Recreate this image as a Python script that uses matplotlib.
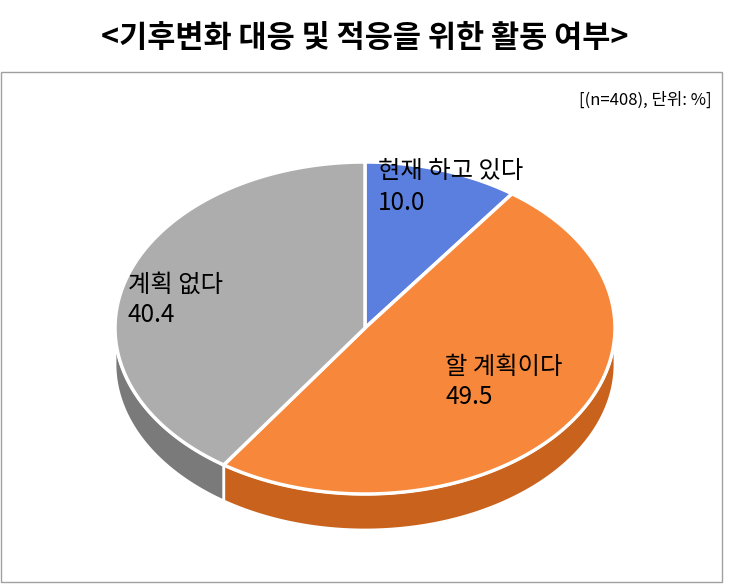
import numpy as np
import matplotlib
matplotlib.use("Agg")
import matplotlib.pyplot as plt
from matplotlib.patches import Polygon, Rectangle

plt.rcParams['font.family'] = ['Noto Sans CJK KR', 'DejaVu Sans']

labels = ["현재 하고 있다", "할 계획이다", "계획 없다"]
values = [10.0, 49.5, 40.4]
colors = ["#5B7FDF", "#F7873A", "#ADADAD"]
side_colors = ["#3F5FB0", "#C8621C", "#7A7A7A"]
title = "<기후변화 대응 및 적응을 위한 활동 여부>"
note = "[(n=408), 단위: %]"

W, H = 731, 588
fig = plt.figure(figsize=(W/100, H/100), dpi=100)
ax = fig.add_axes([0, 0, 1, 1])
ax.set_xlim(0, W); ax.set_ylim(H, 0); ax.axis('off')

ax.add_patch(Rectangle((1, 72), 721, 510, fill=False, ec="#A0A0A0", lw=1))
ax.text(365, 38, title, ha='center', va='center', fontsize=22, fontweight='bold')
ax.text(712, 100, note, ha='right', va='center', fontsize=12)

cx, cy, rx, ry, depth = 365, 328, 250, 166, 36
def pt(a, dy=0):
    return (cx + rx*np.cos(a), cy - ry*np.sin(a) + dy)

total = sum(values)
starts = []
a = np.pi/2
for v in values:
    e = a - 2*np.pi*v/total
    starts.append((a, e)); a = e

for (s, e), sc in zip(starts, side_colors):
    ts = np.linspace(e, s, 400)
    front = ts[np.sin(ts) < 0]
    if len(front) < 2:
        continue
    top = [pt(t) for t in front]
    bot = [pt(t, depth) for t in front[::-1]]
    ax.add_patch(Polygon(top + bot, closed=True, fc=sc, ec='white', lw=2, zorder=1))

for (s, e), c in zip(starts, colors):
    ts = np.linspace(s, e, 300)
    poly = [(cx, cy)] + [pt(t) for t in ts]
    ax.add_patch(Polygon(poly, closed=True, fc=c, ec='white', lw=2.5, zorder=2))

label_pos = [(378, 187), (445, 382), (128, 300)]
for (x, y), lab, v in zip(label_pos, labels, values):
    ax.text(x, y, f"{lab}\n{v:.1f}", ha='left', va='center', fontsize=17.5,
            fontweight='medium', linespacing=1.25, zorder=3)

fig.savefig("out.png", dpi=100)
